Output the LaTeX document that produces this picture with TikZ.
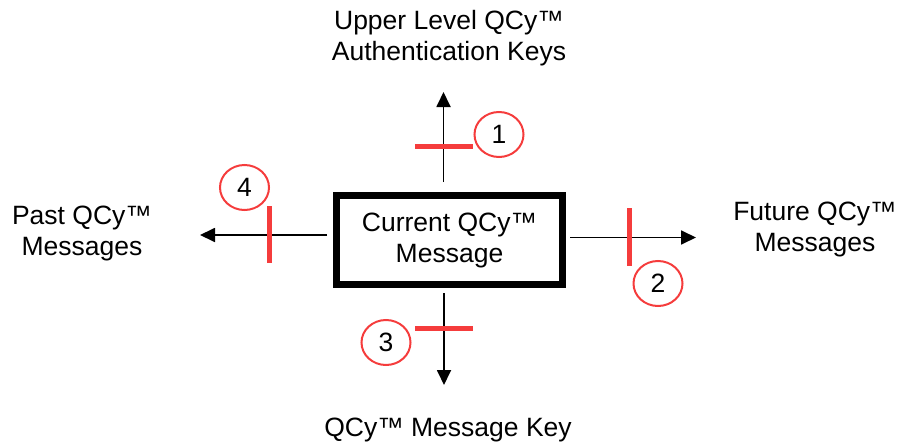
\documentclass[tikz,border=0pt]{standalone}
\usepackage{fontspec}
\setmainfont{Liberation Sans}
\usetikzlibrary{arrows.meta,shapes.geometric}
\definecolor{barred}{RGB}{245,60,60}
\tikzset{
  lbl/.style={align=center,font=\fontsize{26.5}{31}\selectfont,inner sep=0pt},
  mainbox/.style={draw,line width=7pt,minimum width=226pt,minimum height=88.5pt,align=center,font=\fontsize{26.5}{31}\selectfont,inner sep=0pt},
  conn/.style={line width=1.8pt,-{Triangle[length=15pt,width=14pt]}},
  bar/.style={barred,line width=5pt},
  num/.style={ellipse,draw=barred,line width=2pt,minimum width=49pt,minimum height=45pt,inner sep=0pt,font=\fontsize{26.5}{31}\selectfont}
}
\begin{document}
\begin{tikzpicture}[x=1pt,y=-1pt]
\useasboundingbox (0,0) rectangle (897,444);
\node[mainbox] (cur) at (449.5,240) {Current QCy™\\Message};
\node[lbl] (up) at (449,38) {Upper Level QCy™\\Authentication Keys};
\node[lbl] (past) at (82,233) {Past QCy™\\Messages};
\node[lbl] (fut) at (815,229) {Future QCy™\\Messages};
\node[lbl] (down) at (448,430) {QCy™ Message Key};
% connector ends
\coordinate (us) at (443.5,182);
\coordinate (ue) at (443.5,92);
\coordinate (ls) at (327,235);
\coordinate (le) at (200,235);
\coordinate (rs) at (570,237.5);
\coordinate (re) at (696,237.5);
\coordinate (ds) at (444,293);
\coordinate (de) at (444,385);
\draw[conn] (us) -- (ue);
\draw[conn] (ls) -- (le);
\draw[conn] (rs) -- (re);
\draw[conn] (ds) -- (de);
% red bars
\coordinate (b1a) at (415,146); \coordinate (b1b) at (473,146);
\coordinate (b2a) at (629,208); \coordinate (b2b) at (629,266);
\coordinate (b3a) at (415,328); \coordinate (b3b) at (473,328);
\coordinate (b4a) at (269,206); \coordinate (b4b) at (269,263);
\draw[bar] (b1a) -- (b1b);
\draw[bar] (b2a) -- (b2b);
\draw[bar] (b3a) -- (b3b);
\draw[bar] (b4a) -- (b4b);
% numbered circles
\node[num] (n1) at (499,134.5) {1};
\node[num] (n2) at (658,283.5) {2};
\node[num] (n3) at (386,342.5) {3};
\node[num] (n4) at (244.5,187.5) {4};
\end{tikzpicture}
\end{document}
